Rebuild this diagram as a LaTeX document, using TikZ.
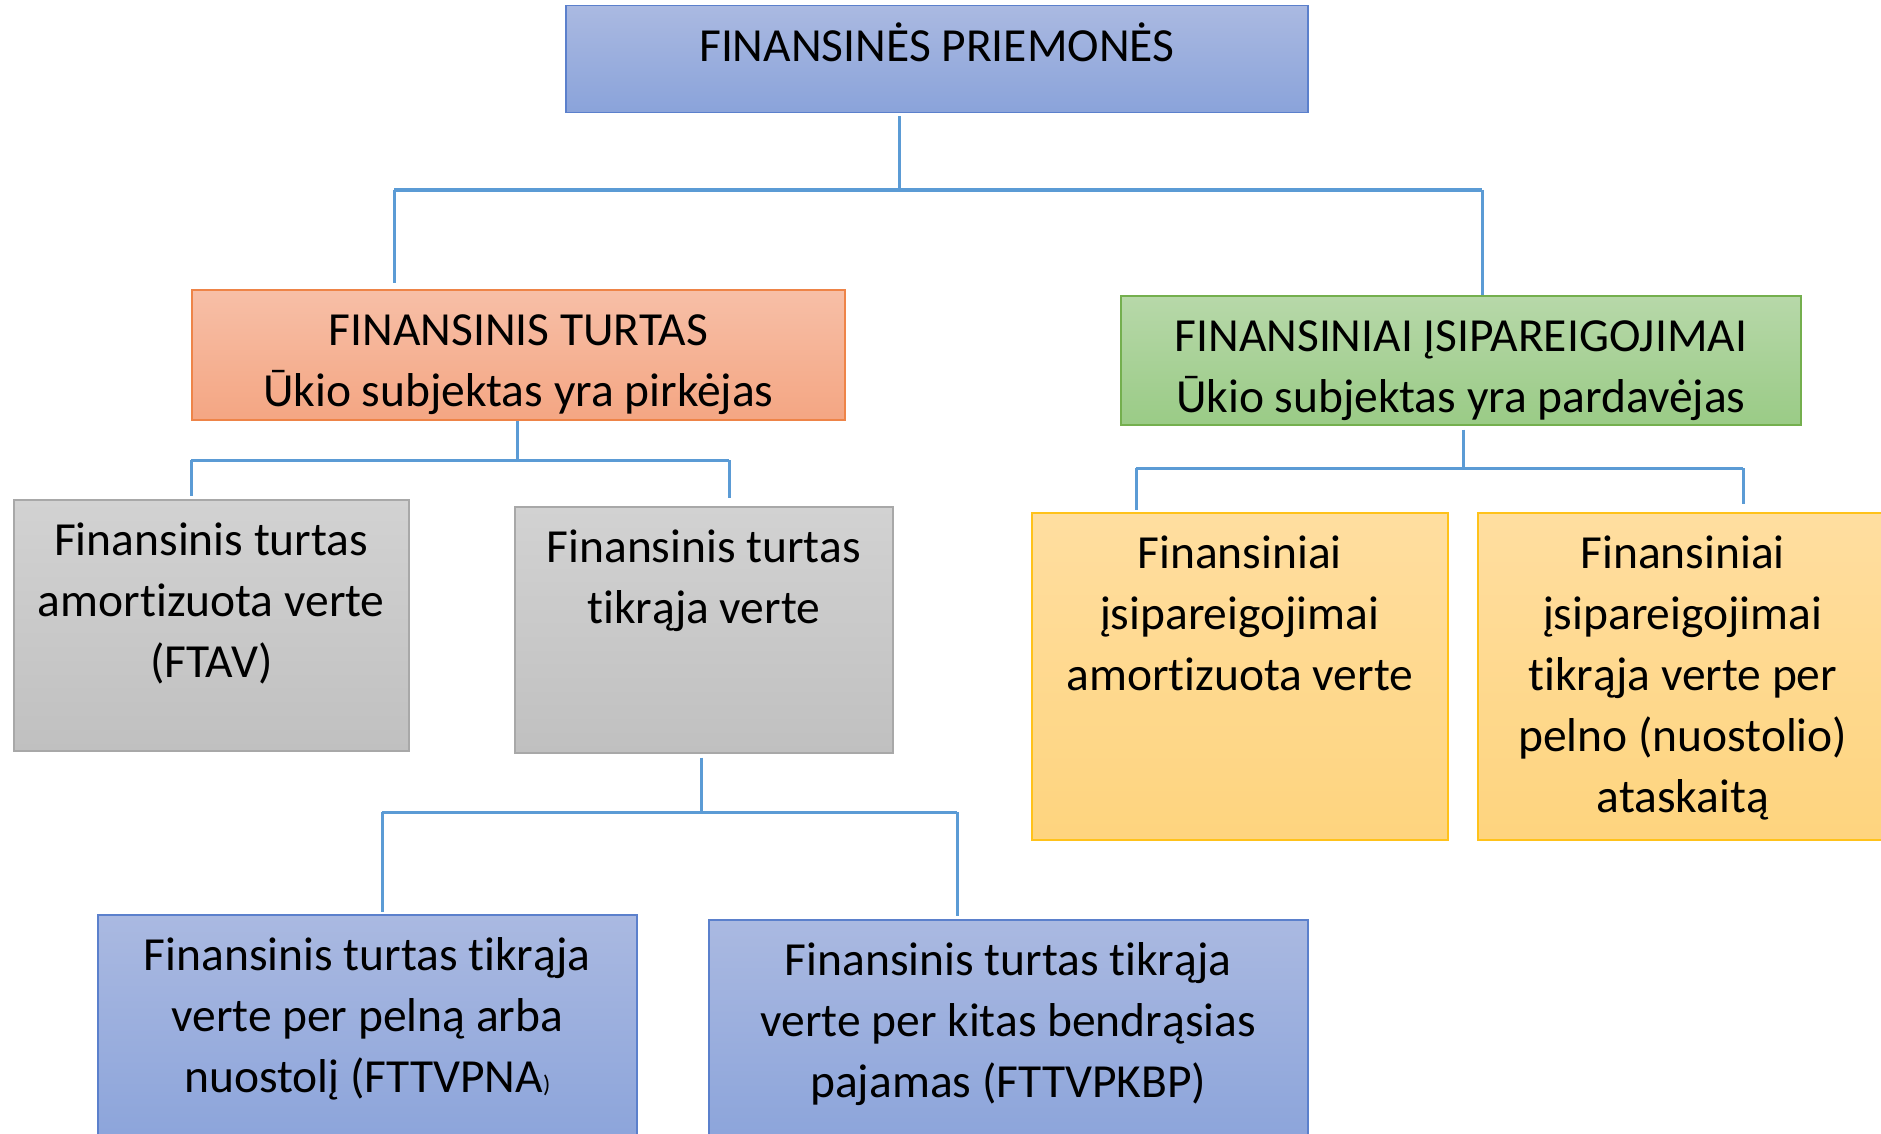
\documentclass[tikz,border=0pt]{standalone}
\usepackage{fontspec}
\setmainfont{Carlito}[RawFeature={-liga}]
\usepackage{xcolor}
\definecolor{blueTop}{HTML}{AAB9E1}
\definecolor{blueBot}{HTML}{8AA3DA}
\definecolor{blueEdge}{HTML}{5B80CC}
\definecolor{orangeTop}{HTML}{F7BFA7}
\definecolor{orangeBot}{HTML}{F4A683}
\definecolor{orangeEdge}{HTML}{EE8448}
\definecolor{greenTop}{HTML}{B7D8A9}
\definecolor{greenBot}{HTML}{9ACB86}
\definecolor{greenEdge}{HTML}{74AF4E}
\definecolor{grayTop}{HTML}{D2D2D2}
\definecolor{grayBot}{HTML}{C0C0C0}
\definecolor{grayEdge}{HTML}{A8A8A8}
\definecolor{yellowTop}{HTML}{FFDEA0}
\definecolor{yellowBot}{HTML}{FED47E}
\definecolor{yellowEdge}{HTML}{FFC21A}
\definecolor{linkBlue}{HTML}{5B9BD5}
\newcommand{\boxtext}[3]{\parbox[c][#2pt][t]{#1pt}{\centering\rule{0pt}{56pt}#3}}

\begin{document}
\begin{tikzpicture}[x=1pt, y=-1pt,
    every node/.style={font=\fontsize{47.5}{61}\selectfont, inner sep=0pt,
        anchor=north west, line width=1.5pt},
    bluebox/.style={draw=blueEdge, top color=blueTop, bottom color=blueBot},
    orangebox/.style={draw=orangeEdge, top color=orangeTop, bottom color=orangeBot},
    greenbox/.style={draw=greenEdge, top color=greenTop, bottom color=greenBot},
    graybox/.style={draw=grayEdge, top color=grayTop, bottom color=grayBot},
    yellowbox/.style={draw=yellowEdge, top color=yellowTop, bottom color=yellowBot},
    link/.style={draw=linkBlue, line width=3pt}]
    \useasboundingbox (0,0) rectangle (1881,1134);

    \node[bluebox] (fp) at (565,5) {\boxtext{742}{107}{FINANSINĖS PRIEMONĖS}};
    \node[orangebox] (ft) at (191,289)
        {\boxtext{653}{130}{FINANSINIS TURTAS\\Ūkio subjektas yra pirkėjas}};
    \node[greenbox] (fi) at (1120,295)
        {\boxtext{680}{129}{FINANSINIAI ĮSIPAREIGOJIMAI\\Ūkio subjektas yra pardavėjas}};
    \node[graybox] (ftav) at (13,499)
        {\boxtext{395}{251}{Finansinis turtas\\amortizuota verte\\(FTAV)}};
    \node[graybox] (fttv) at (514,506)
        {\boxtext{378}{246}{Finansinis turtas\\tikrąja verte}};
    \node[yellowbox] (fiav) at (1031,512)
        {\boxtext{416}{327}{Finansiniai\\įsipareigojimai\\amortizuota verte}};
    \node[yellowbox] (fitv) at (1477,512)
        {\boxtext{410}{327}{Finansiniai\\įsipareigojimai\\tikrąja verte per\\pelno (nuostolio)\\ataskaitą}};
    \node[bluebox] (fttvpna) at (97,914)
        {\boxtext{539}{240}{Finansinis turtas tikrąja\\verte per pelną arba\\nuostolį (FTTVPNA{\fontsize{24}{24}\selectfont)}}};
    \node[bluebox] (fttvpkbp) at (708,919)
        {\boxtext{599}{235}{Finansinis turtas tikrąja\\verte per kitas bendrąsias\\pajamas (FTTVPKBP)}};

    % top level
    \coordinate (b1l) at (394,190);
    \coordinate (b1m) at (899,190);
    \coordinate (b1r) at (1482,190);
    \draw[link, shorten <=3pt] (b1m |- fp.south) -- (b1m);
    \draw[link, line width=4pt] (b1l) -- (b1r);
    \draw[link, shorten >=6pt] (b1l) -- (b1l |- ft.north);
    \draw[link] (b1r) -- (b1r |- fi.north);

    % turtas
    \coordinate (b2l) at (191,460);
    \coordinate (b2m) at (517,460);
    \coordinate (b2r) at (729,460);
    \draw[link] (b2m |- ft.south) -- (b2m);
    \draw[link] (b2l) -- (b2r);
    \draw[link, shorten >=3pt] (b2l) -- (b2l |- ftav.north);
    \draw[link, shorten >=8pt] (b2r) -- (b2r |- fttv.north);

    % isipareigojimai
    \coordinate (b3l) at (1136,468);
    \coordinate (b3m) at (1463,468);
    \coordinate (b3r) at (1743,468);
    \draw[link, shorten <=4pt] (b3m |- fi.south) -- (b3m);
    \draw[link] (b3l) -- (b3r);
    \draw[link, shorten >=2pt] (b3l) -- (b3l |- fiav.north);
    \draw[link, shorten >=8pt] (b3r) -- (b3r |- fitv.north);

    % tikraja verte
    \coordinate (b4l) at (382,812);
    \coordinate (b4m) at (701,812);
    \coordinate (b4r) at (957,812);
    \draw[link, shorten <=4pt] (b4m |- fttv.south) -- (b4m);
    \draw[link] (b4l) -- (b4r);
    \draw[link, shorten >=2pt] (b4l) -- (b4l |- fttvpna.north);
    \draw[link, shorten >=3pt] (b4r) -- (b4r |- fttvpkbp.north);
\end{tikzpicture}
\end{document}
